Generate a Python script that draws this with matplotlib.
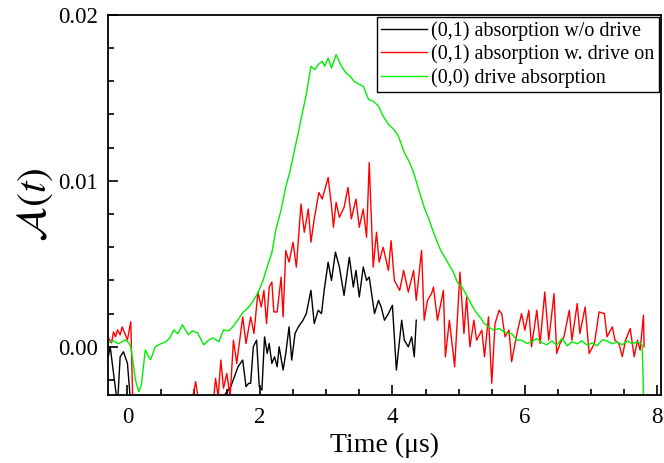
import matplotlib
matplotlib.use("Agg")
import matplotlib.pyplot as plt
import numpy as np
from matplotlib.ticker import MultipleLocator

# values (time in us, absorption in units of 1e-3)
green_t = [-0.29, -0.21, -0.14, -0.03, 0.02, 0.05, 0.09, 0.12, 0.17, 0.21, 0.27, 0.32,
           0.35, 0.42, 0.50, 0.58, 0.64, 0.70, 0.76, 0.83, 0.92, 0.98, 1.06, 1.15,
           1.23, 1.29, 1.38, 1.45, 1.53, 1.59, 1.67, 1.74, 1.82, 1.89, 1.97, 2.05,
           2.12, 2.18, 2.24, 2.32, 2.39, 2.45, 2.50, 2.58, 2.62, 2.70, 2.77, 2.83,
           2.88, 2.94, 2.98, 3.03, 3.08, 3.15, 3.23, 3.30, 3.36, 3.42, 3.50, 3.56,
           3.64, 3.71, 3.79, 3.86, 3.94, 4.02, 4.09, 4.18, 4.26, 4.32, 4.41, 4.48,
           4.55, 4.61, 4.67, 4.73, 4.79, 4.86, 4.92, 4.98, 5.05, 5.12, 5.20, 5.26,
           5.32, 5.39, 5.45, 5.53, 5.61, 5.65, 5.73, 5.80, 5.88, 5.95, 6.03, 6.10,
           6.18, 6.26, 6.33, 6.41, 6.48, 6.56, 6.64, 6.71, 6.79, 6.86, 6.94, 7.02,
           7.09, 7.17, 7.24, 7.32, 7.39, 7.47, 7.55, 7.62, 7.70, 7.77, 7.79]
green_a = [0.24, 0.36, 0.18, 0.42, 0.24, 0.0, -1.08, -1.99, -2.71, -2.29, -0.18, -0.60,
           -0.78, 0.0, 0.18, 0.30, 0.54, 1.02, 0.78, 1.33, 0.72, 0.96, 0.84, 0.12,
           0.42, 0.54, 0.30, 1.02, 0.96, 1.20, 1.63, 2.05, 2.35, 2.71, 3.25, 4.04,
           4.94, 5.66, 7.05, 8.25, 9.64, 10.5, 11.45, 12.9, 13.7, 15.2, 16.9, 16.7,
           17.0, 17.2, 16.9, 17.4, 16.8, 17.6, 16.9, 16.5, 16.3, 16.0, 15.8, 15.7,
           14.9, 14.8, 14.5, 13.9, 13.4, 13.1, 12.7, 11.7, 11.1, 10.5, 9.3, 8.4,
           7.7, 7.0, 6.4, 5.8, 5.4, 4.9, 4.5, 3.9, 3.6, 3.1, 2.5, 2.1,
           1.8, 1.4, 1.2, 1.0, 1.1, 1.0, 0.8, 0.8, 0.4, 0.4, 0.2, 0.3,
           0.5, 0.24, 0.12, 0.36, 0.1, 0.5, 0.06, 0.3, 0.18, 0.36, 0.1, 0.24,
           0.06, 0.42, 0.36, 0.18, 0.3, 0.12, 0.36, 0.18, 0.3, 0.12, -2.8]

red_t = [-0.29, -0.24, -0.21, -0.18, -0.15, -0.11, -0.08, -0.03, 0.00, 0.05, 0.08,
         0.20, 0.45, 0.70, 0.95, 1.03, 1.08, 1.20, 1.30, 1.33, 1.37, 1.41, 1.45,
         1.50, 1.55, 1.60, 1.65, 1.74, 1.79, 1.86, 1.91, 1.97, 2.02, 2.06, 2.10,
         2.14, 2.18, 2.21, 2.26, 2.32, 2.35, 2.39, 2.44, 2.50, 2.55, 2.62, 2.67,
         2.73, 2.77, 2.82, 2.89, 2.94, 3.03, 3.08, 3.11, 3.15, 3.20, 3.27, 3.33,
         3.38, 3.45, 3.50, 3.56, 3.61, 3.65, 3.71, 3.76, 3.80, 3.86, 3.94, 3.98,
         4.03, 4.11, 4.17, 4.24, 4.32, 4.36, 4.44, 4.48, 4.53, 4.59, 4.62, 4.68,
         4.77, 4.80, 4.86, 4.94, 5.02, 5.08, 5.12, 5.17, 5.23, 5.27, 5.35, 5.39,
         5.45, 5.50, 5.55, 5.61, 5.65, 5.70, 5.76, 5.80, 5.88, 5.95, 6.00, 6.06,
         6.10, 6.18, 6.23, 6.30, 6.36, 6.44, 6.48, 6.53, 6.59, 6.67, 6.71, 6.79,
         6.83, 6.91, 6.97, 7.05, 7.12, 7.20, 7.24, 7.32, 7.36, 7.42, 7.47, 7.52,
         7.59, 7.65, 7.70, 7.74, 7.79, 7.80]
red_a = [0.54, 0.24, 0.90, 0.60, 1.02, 0.72, 1.20, 0.72, 0.42, 1.51, -3.2,
         -4.5, -5.0, -4.5, -3.8, -2.1, -3.5, -4.0, -3.2, -1.9, -3.0, -0.8, -2.5,
         -1.6, -3.0, 0.4, -1.0, 1.8, 0.2, 1.8, 0.8, 3.3, 2.4, 3.4, 1.4,
         3.6, 3.9, 2.1, 2.1, 4.2, 1.8, 5.8, 5.1, 6.3, 4.8, 8.6, 6.9,
         8.3, 6.3, 7.7, 9.3, 8.9, 10.2, 8.5, 7.2, 8.7, 7.8, 8.4, 9.6,
         7.7, 8.9, 7.2, 8.3, 6.6, 11.1, 4.8, 6.9, 5.1, 6.0, 4.6, 6.4,
         4.0, 3.4, 4.6, 3.3, 4.6, 2.8, 5.8, 1.6, 2.8, 3.2, 3.6, 1.6,
         3.4, -0.6, 1.6, -1.2, 4.5, 0.8, 3.0, 0.0, 1.6, 0.4, 1.0, -0.6,
         1.8, -2.2, 1.4, 2.2, 2.0, 0.6, 1.0, -0.9, 0.8, 2.0, 1.0, 2.2,
         0.0, 2.2, 0.2, 3.3, 0.4, 3.2, -0.4, 0.2, 0.6, 2.2, 0.4, 2.6,
         0.8, 2.4, -0.4, 0.2, 2.1, 2.0, 0.6, 1.2, 0.4, 0.2, -0.6, 0.4,
         1.1, -0.6, 0.4, -0.2, 1.9, 0.0]

black_t = [-0.29, -0.26, -0.21, -0.15, -0.11, -0.06, 0.00, 0.05, 0.30, 0.70, 1.00,
           1.30, 1.45, 1.56, 1.67, 1.74, 1.79, 1.83, 1.86, 1.90, 1.95, 1.99, 2.03,
           2.07, 2.11, 2.14, 2.18, 2.22, 2.26, 2.29, 2.35, 2.39, 2.44, 2.48, 2.53,
           2.58, 2.65, 2.70, 2.77, 2.82, 2.88, 2.93, 2.97, 3.03, 3.08, 3.14, 3.20,
           3.27, 3.35, 3.41, 3.45, 3.50, 3.56, 3.61, 3.65, 3.73, 3.79, 3.83, 3.88,
           3.94, 4.00, 4.06, 4.14, 4.18, 4.24, 4.29, 4.33, 4.36]
black_a = [-0.6, 0.0, -1.6, -3.5, -0.6, -0.3, -1.0, -3.5, -5.0, -5.0, -4.5,
           -4.0, -3.0, -2.4, -1.2, -0.8, -2.4, -2.2, -2.2, 0.0, 0.4, -2.4, -2.6,
           0.6, -0.4, 0.2, -1.0, -0.6, -1.2, 0.0, -1.4, -0.4, 1.2, -0.8, 0.8,
           1.2, 1.6, 2.0, 3.4, 1.4, 2.2, 2.0, 3.4, 5.1, 4.0, 5.7, 4.8,
           3.1, 5.4, 3.6, 4.6, 3.0, 4.8, 4.0, 4.2, 2.0, 2.8, 2.4, 1.6,
           2.0, 2.5, -1.4, 1.6, 0.4, 0.0, 0.6, -0.6, 1.6]

labels = ["(0,1) absorption w/o drive", "(0,1) absorption w. drive on",
          "(0,0) drive absorption"]

plt.rcParams["font.family"] = "Liberation Serif"
plt.rcParams["mathtext.fontset"] = "stix"

fig = plt.figure(figsize=(6.64, 4.63), dpi=100)
ax = fig.add_axes([0.163, 0.147, 0.832, 0.821])

ax.plot(black_t, np.array(black_a) * 1e-3, color="black", lw=1.0, label=labels[0])
ax.plot(red_t, np.array(red_a) * 1e-3, color="#ff0000", lw=1.0, label=labels[1])
ax.plot(green_t, np.array(green_a) * 1e-3, color="#00ee00", lw=1.0, label=labels[2])

ax.set_xlim(-0.29, 8.05)
ax.set_ylim(-0.0029, 0.02)
ax.xaxis.set_major_locator(MultipleLocator(2))
ax.xaxis.set_minor_locator(MultipleLocator(0.5))
ax.yaxis.set_major_locator(MultipleLocator(0.01))
ax.yaxis.set_minor_locator(MultipleLocator(0.002))
ax.yaxis.set_major_formatter(matplotlib.ticker.FormatStrFormatter("%.2f"))
ax.tick_params(which="both", direction="in", width=1.2, labelsize=16.5)
ax.tick_params(which="major", length=7)
ax.tick_params(which="minor", length=4)
ax.tick_params(axis="x", pad=9)
ax.tick_params(axis="y", pad=7.5)
for s in ax.spines.values():
    s.set_linewidth(1.3)

ax.set_xlabel("Time (μs)", fontsize=20, labelpad=3)
ax.set_ylabel(r"$\mathcal{A}(t)$", fontsize=30, labelpad=2)

leg = ax.legend(loc="upper right", fontsize=14.5, handlelength=2.3, handletextpad=0.2,
                labelspacing=0.2, borderpad=0.2, borderaxespad=0.1,
                fancybox=False, framealpha=1, edgecolor="black")
leg.get_frame().set_linewidth(1.0)

fig.savefig("out.png", dpi=100)
